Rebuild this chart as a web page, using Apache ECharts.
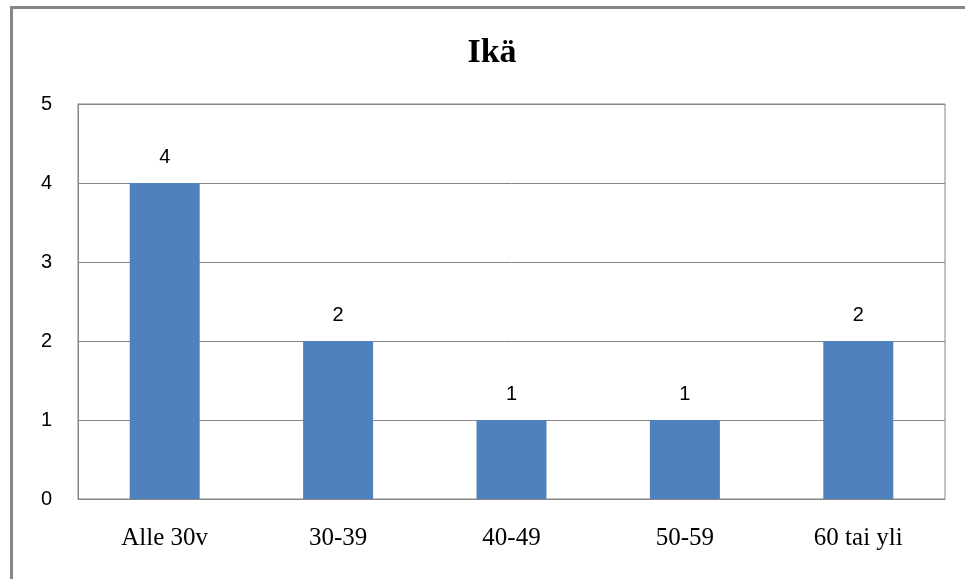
<!DOCTYPE html>
<html>
<head>
<meta charset="utf-8">
<script src="https://cdn.jsdelivr.net/npm/echarts@6/dist/echarts.min.js"></script>
<style>
  html, body { margin: 0; padding: 0; background: #fff; }
  #chart { width: 965px; height: 579px; }
</style>
</head>
<body>
<div id="chart"></div>
<script>
const categories = ['Alle 30v', '30-39', '40-49', '50-59', '60 tai yli'];
const counts = [4, 2, 1, 1, 2];
const yTicks = [0, 1, 2, 3, 4, 5];

const chart = echarts.init(document.getElementById('chart'));
chart.setOption({
  animation: false,
  backgroundColor: '#ffffff',
  title: {
    text: 'Ikä',
    left: 487,
    top: 31,
    textAlign: 'center',
    textStyle: { fontFamily: 'Liberation Serif', fontWeight: 'bold', fontSize: 34, color: '#000' }
  },
  graphic: [{
    type: 'rect',
    shape: { x: 11.5, y: 7.5, width: 1000, height: 700 },
    style: { fill: 'none', stroke: '#868686', lineWidth: 3 },
    silent: true
  }],
  grid: { left: 78, right: 20, top: 104, bottom: 80, containLabel: false, show: true, borderColor: '#868686', borderWidth: 1 },
  xAxis: {
    type: 'category',
    data: categories,
    axisLine: { lineStyle: { color: '#868686' } },
    axisTick: { show: false },
    axisLabel: { fontFamily: 'Liberation Serif', fontSize: 25, color: '#000', margin: 27 }
  },
  yAxis: {
    type: 'value',
    min: yTicks[0],
    max: yTicks[yTicks.length - 1],
    interval: 1,
    axisLine: { show: true, lineStyle: { color: '#868686' } },
    axisTick: { show: false },
    splitLine: { lineStyle: { color: '#868686' } },
    axisLabel: { fontFamily: 'Liberation Sans', fontSize: 20, color: '#000', margin: 26 }
  },
  series: [{
    type: 'bar',
    data: counts,
    barWidth: 70,
    itemStyle: { color: '#4F81BD' },
    label: {
      show: true,
      position: 'top',
      distance: 16,
      fontFamily: 'Liberation Sans',
      fontSize: 20,
      color: '#000'
    }
  }]
});
</script>
</body>
</html>
